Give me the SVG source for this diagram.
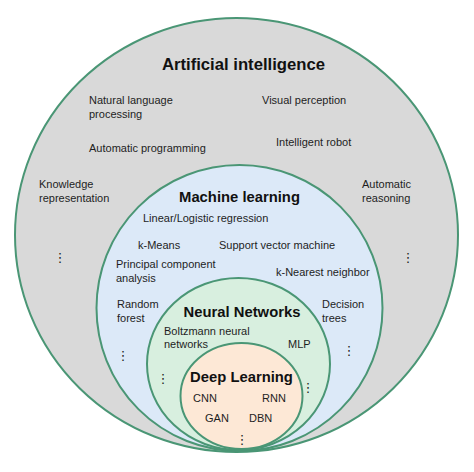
<svg xmlns="http://www.w3.org/2000/svg" width="474" height="472" viewBox="0 0 474 472">
<style>
.c{stroke:#4a9675;stroke-width:2}
.t{font-family:"Liberation Sans",Arial,sans-serif;font-size:11px;fill:#1e1e1e}
.h{font-family:"Liberation Sans",Arial,sans-serif;font-size:14.8px;font-weight:bold;fill:#111;text-anchor:middle}
.d{font-family:"DejaVu Sans",sans-serif;font-size:13px;fill:#1e1e1e;text-anchor:middle}
</style>
<rect width="474" height="472" fill="#fff"/>
<g id="connectors"/>
<g id="ai">
<ellipse class="c" cx="236.5" cy="235" rx="221.5" ry="217" fill="#d9d9d9"/>
<text class="h" x="243.5" y="70" style="font-size:16.7px">Artificial intelligence</text>
<text class="t" x="89" y="104">Natural language</text>
<text class="t" x="89" y="118">processing</text>
<text class="t" x="262" y="104">Visual perception</text>
<text class="t" x="89" y="152">Automatic programming</text>
<text class="t" x="276" y="146">Intelligent robot</text>
<text class="t" x="39" y="188">Knowledge</text>
<text class="t" x="39" y="202">representation</text>
<text class="t" x="362" y="188">Automatic</text>
<text class="t" x="362" y="202">reasoning</text>
<text class="d" x="60" y="262">⋮</text>
<text class="d" x="408" y="262">⋮</text>
</g>
<g id="ml">
<ellipse class="c" cx="239.5" cy="308" rx="143" ry="143" fill="#dce9f8"/>
<text class="h" x="239.5" y="202">Machine learning</text>
<text class="t" x="143" y="222">Linear/Logistic regression</text>
<text class="t" x="138" y="249">k-Means</text>
<text class="t" x="219" y="249">Support vector machine</text>
<text class="t" x="116" y="268">Principal component</text>
<text class="t" x="116" y="281.5">analysis</text>
<text class="t" x="276" y="276">k-Nearest neighbor</text>
<text class="t" x="117" y="308">Random</text>
<text class="t" x="117" y="322">forest</text>
<text class="t" x="322" y="308">Decision</text>
<text class="t" x="322" y="322">trees</text>
<text class="d" x="123" y="360">⋮</text>
<text class="d" x="349" y="355">⋮</text>
</g>
<g id="nn">
<ellipse class="c" cx="238.5" cy="364" rx="91.5" ry="86" fill="#d8efdf"/>
<text class="h" x="242" y="317">Neural Networks</text>
<text class="t" x="164" y="335">Boltzmann neural</text>
<text class="t" x="164" y="347.5">networks</text>
<text class="t" x="288" y="348">MLP</text>
<text class="d" x="163" y="383">⋮</text>
<text class="d" x="308" y="392">⋮</text>
</g>
<g id="dl">
<ellipse class="c" cx="241.5" cy="396" rx="61" ry="53" fill="#fde8d6"/>
<text class="h" x="241.5" y="382">Deep Learning</text>
<text class="t" x="193" y="402">CNN</text>
<text class="t" x="262" y="402">RNN</text>
<text class="t" x="205" y="422">GAN</text>
<text class="t" x="249" y="422">DBN</text>
<text class="d" x="242" y="444">⋮</text>
</g>
</svg>
